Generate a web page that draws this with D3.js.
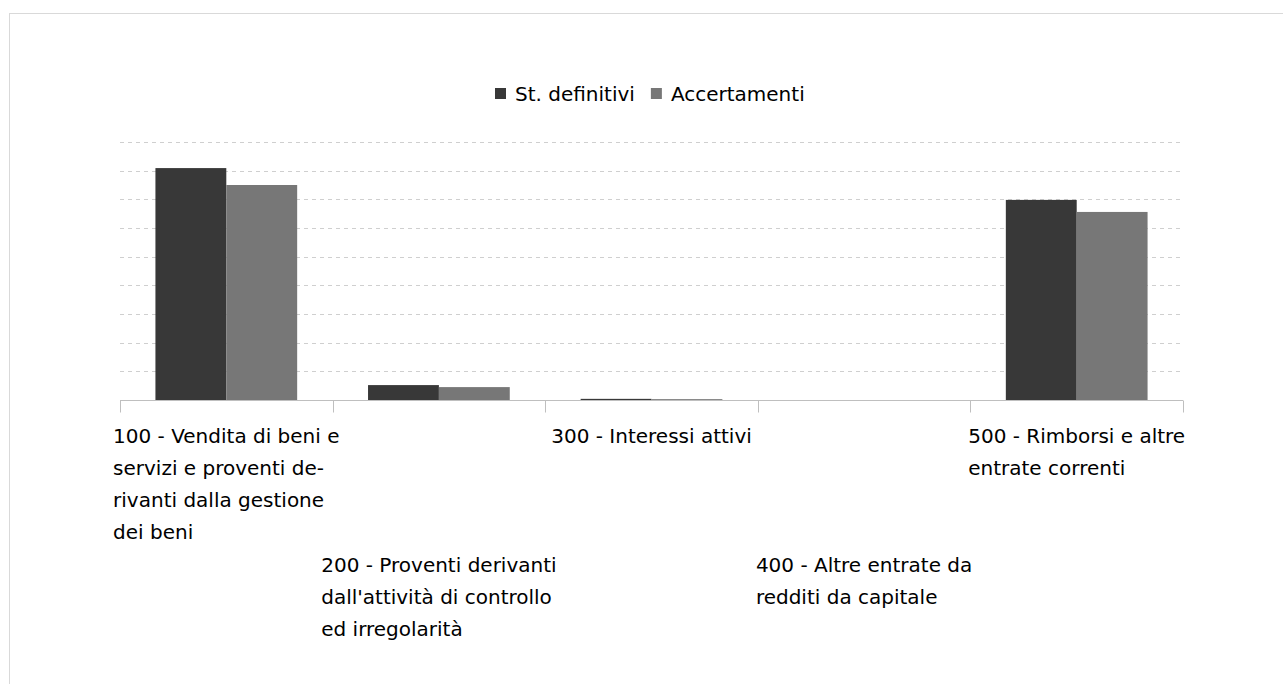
<!DOCTYPE html>
<html>
<head>
<meta charset="utf-8">
<title>Entrate extratributarie</title>
<script src="https://d3js.org/d3.v7.min.js"></script>
<style>
  body { margin: 0; background: #fff; }
  svg text { font-family: "DejaVu Sans", sans-serif; fill: #000; }
</style>
</head>
<body>
<svg id="chart" width="1283" height="684"></svg>
<script>
// category labels, already split in lines like the original
var categories = ["100", "200", "300", "400", "500"];
var catLines = [
  ["100 - Vendita di beni e", "servizi e proventi de-", "rivanti dalla gestione", "dei beni"],
  ["200 - Proventi derivanti", "dall'attività di controllo", "ed irregolarità"],
  ["300 - Interessi attivi"],
  ["400 - Altre entrate da", "redditi da capitale"],
  ["500 - Rimborsi e altre", "entrate correnti"]
];
var seriesNames = ["St. definitivi", "Accertamenti"];
var seriesColors = ["#383838", "#777777"];
// values (one unit = one gridline step)
var stDefinitivi = [8.09, 0.52, 0.04, 0, 6.98];
var accertamenti = [7.50, 0.45, 0.03, 0, 6.56];
var yTicks = [0, 1, 2, 3, 4, 5, 6, 7, 8, 9];

var svg = d3.select("#chart");

// outer frame
svg.append("rect")
  .attr("x", 9.5).attr("y", 13.5)
  .attr("width", 1400).attr("height", 800)
  .attr("fill", "none").attr("stroke", "#d9d9d9");

var plotLeft = 120, plotRight = 1183, plotTop = 142, plotBottom = 400;

var x = d3.scaleBand().domain(categories).range([plotLeft, plotRight]);
var xs = d3.scaleBand().domain(seriesNames)
  .range([x.bandwidth() / 6, x.bandwidth() * 5 / 6]);
var y = d3.scaleLinear().domain([0, 9]).range([plotBottom, plotTop]);

// gridlines
svg.append("g").selectAll("line")
  .data(yTicks.slice(1))
  .enter().append("line")
  .attr("x1", plotLeft).attr("x2", plotRight)
  .attr("y1", d => Math.round(y(d)) + 0.5)
  .attr("y2", d => Math.round(y(d)) + 0.5)
  .attr("stroke", "#cfcfcf")
  .attr("stroke-dasharray", "4,4");

// bars
var data = categories.map((c, i) => [stDefinitivi[i], accertamenti[i]]);
var groups = svg.append("g").selectAll("g")
  .data(data)
  .enter().append("g")
  .attr("transform", (d, i) => "translate(" + x(categories[i]) + ",0)");

groups.selectAll("rect")
  .data(d => d.map((v, j) => ({ v: v, s: seriesNames[j], c: seriesColors[j] })))
  .enter().append("rect")
  .attr("x", d => xs(d.s))
  .attr("width", xs.bandwidth())
  .attr("y", d => y(d.v))
  .attr("height", d => plotBottom - y(d.v))
  .attr("fill", d => d.c);

// x axis line and ticks
var ax = svg.append("g").attr("transform", "translate(0," + (plotBottom + 0.5) + ")");
ax.append("line")
  .attr("x1", plotLeft).attr("x2", plotRight)
  .attr("stroke", "#bfbfbf");
var edges = categories.map(c => x(c)).concat([plotRight]);
ax.selectAll("line.tick")
  .data(edges)
  .enter().append("line")
  .attr("class", "tick")
  .attr("x1", d => Math.round(d) + 0.5).attr("x2", d => Math.round(d) + 0.5)
  .attr("y1", 0).attr("y2", 12)
  .attr("stroke", "#bfbfbf");

// category labels, staggered on two rows, centred under each band
var lineH = 32.3, firstBase = 442.5;
catLines.forEach(function (lines, i) {
  var t = svg.append("text").style("font-size", "20px");
  var startLine = i % 2 === 0 ? 0 : 4;
  lines.forEach(function (l, k) {
    t.append("tspan")
      .attr("x", 0)
      .attr("y", firstBase + (startLine + k) * lineH)
      .text(l);
  });
  var w = t.node().getBBox().width;
  var cx = x(categories[i]) + x.bandwidth() / 2;
  t.selectAll("tspan").attr("x", cx - w / 2);
});

// legend
var legend = svg.append("g").attr("transform", "translate(495,0)");
var lx = 0;
seriesNames.forEach(function (s, i) {
  legend.append("rect")
    .attr("x", lx).attr("y", 88)
    .attr("width", 11).attr("height", 11)
    .attr("fill", seriesColors[i]);
  var t = legend.append("text")
    .attr("x", lx + 20).attr("y", 101)
    .style("font-size", "20px")
    .text(s);
  lx += 20 + t.node().getComputedTextLength() + 16;
});
</script>
</body>
</html>
